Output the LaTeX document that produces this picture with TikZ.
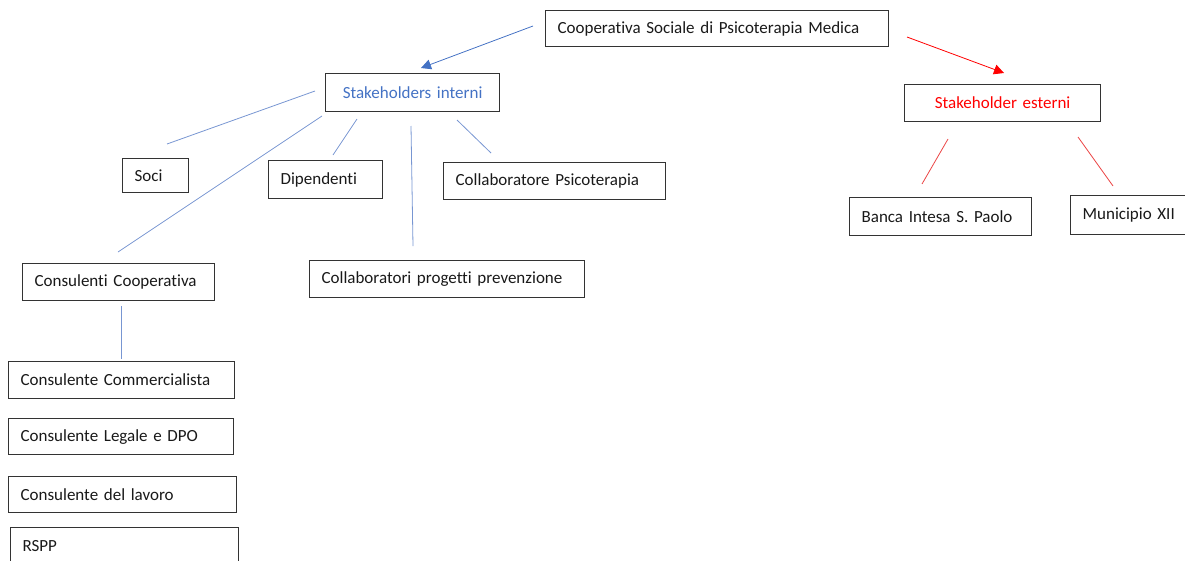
\documentclass[tikz,border=0pt]{standalone}
\usepackage{fontspec}
\setmainfont{Carlito}[RawFeature=-liga]
\usetikzlibrary{arrows.meta}
\definecolor{sblue}{RGB}{68,114,196}
\definecolor{lblue}{RGB}{120,150,210}
\definecolor{sred}{RGB}{255,0,0}
\definecolor{lred}{RGB}{235,70,70}
\begin{document}
\begin{tikzpicture}[x=1pt,y=-1pt,
  box/.style={draw=black!80, line width=1.2pt, rectangle, inner ysep=0pt, inner xsep=12pt,
    anchor=north west, align=left, font=\fontsize{17}{20}\selectfont, text=black!90},
  cbox/.style={box, align=center},
  bline/.style={draw=lblue, line width=0.8pt},
  rline/.style={draw=lred, line width=0.8pt},
  barrow/.style={bline, -{Triangle[length=10pt,width=10pt]}, draw=sblue!80, color=sblue},
  rarrow/.style={rline, -{Triangle[length=10pt,width=10pt]}, color=sred}]
\useasboundingbox (0,0) rectangle (1185,560);

% boxes
\node[box, minimum width=343, minimum height=36, text width=319] (coop) at (545,10) {Cooperativa Sociale di Psicoterapia Medica};
\node[cbox, minimum width=174, minimum height=38, text width=150, text=sblue] (int) at (325,73) {Stakeholders interni};
\node[cbox, minimum width=196, minimum height=37, text width=172, text=sred] (est) at (904,84) {Stakeholder esterni};
\node[box, minimum width=66, minimum height=34, text width=42] (soci) at (122,158) {Soci};
\node[box, minimum width=114, minimum height=38, text width=90] (dip) at (268,160) {Dipendenti};
\node[box, minimum width=222, minimum height=37, text width=198] (psico) at (443,162) {Collaboratore Psicoterapia};
\node[box, minimum width=192, minimum height=37, text width=168] (cons) at (22,263) {Consulenti Cooperativa};
\node[box, minimum width=275, minimum height=37, text width=251] (prev) at (309,260) {Collaboratori progetti prevenzione};
\node[box, minimum width=226, minimum height=37, text width=202] (comm) at (8,361) {Consulente Commercialista};
\node[box, minimum width=225, minimum height=36, text width=201] (leg) at (8,418) {Consulente Legale e DPO};
\node[box, minimum width=228, minimum height=36, text width=204] (lav) at (8,476) {Consulente del lavoro};
\node[box, minimum width=228, minimum height=36, text width=204] (rspp) at (10,527) {RSPP};
\node[box, minimum width=182, minimum height=38, text width=158] (banca) at (849,197) {Banca Intesa S. Paolo};
\node[box, minimum width=120, minimum height=39, text width=96] (mun) at (1070,195) {Municipio XII};

% connector end points
\coordinate (a1) at (533,26);   \coordinate (a2) at (421,68);
\coordinate (r1) at (907,37);   \coordinate (r2) at (1004,73);
\coordinate (s1) at (315,91);   \coordinate (s2) at (167,144);
\coordinate (c1) at (322,116);  \coordinate (c2) at (118,252);
\coordinate (d1) at (357,119);  \coordinate (d2) at (333,155);
\coordinate (p1) at (411,126);  \coordinate (p2) at (413,246);
\coordinate (q1) at (457,120);  \coordinate (q2) at (491,153);
\coordinate (k1) at (121,306);  \coordinate (k2) at (121,359);
\coordinate (e1) at (948,139);  \coordinate (e2) at (922,184);
\coordinate (m1) at (1078,137); \coordinate (m2) at (1113,186);

\draw[barrow] (a1) -- (a2);
\draw[rarrow] (r1) -- (r2);
\draw[bline] (s1) -- (s2);
\draw[bline] (c1) -- (c2);
\draw[bline] (d1) -- (d2);
\draw[bline] (p1) -- (p2);
\draw[bline] (q1) -- (q2);
\draw[bline] (k1) -- (k2);
\draw[rline] (e1) -- (e2);
\draw[rline] (m1) -- (m2);
\end{tikzpicture}
\end{document}
